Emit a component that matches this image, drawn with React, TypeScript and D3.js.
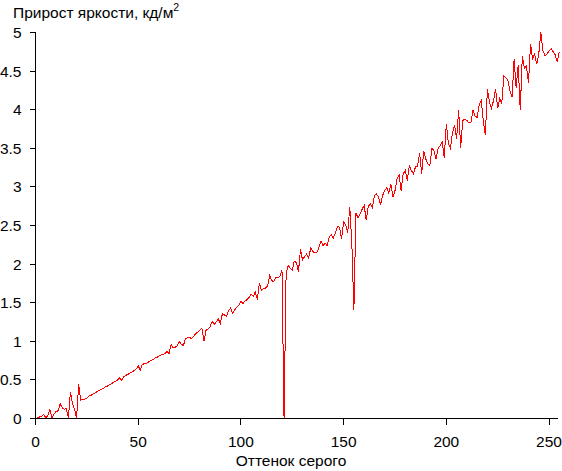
import React from "react";
import * as d3 from "d3";

const grayLevels: number[] = Array.from({ length: 256 }, (_, i) => i);

const brightnessGain: number[] = [
  0.0, 0.01, 0.02, 0.03, 0.05, 0.01, 0.04, 0.12, 0.01, 0.06,
  0.09, 0.1, 0.19, 0.14, 0.12, 0.13, 0.01, 0.34, 0.2, 0.12,
  0.0, 0.44, 0.24, 0.25, 0.25, 0.26, 0.29, 0.3, 0.32, 0.33,
  0.35, 0.36, 0.38, 0.39, 0.41, 0.42, 0.44, 0.45, 0.47, 0.48,
  0.5, 0.53, 0.49, 0.54, 0.56, 0.57, 0.59, 0.6, 0.62, 0.64,
  0.68, 0.63, 0.7, 0.71, 0.71, 0.73, 0.75, 0.76, 0.78, 0.79,
  0.81, 0.82, 0.83, 0.84, 0.87, 0.84, 0.96, 0.915, 0.92, 0.945,
  1.0, 0.96, 0.945, 1.03, 1.045, 1.045, 1.04, 1.06, 1.1, 1.12,
  1.14, 1.17, 1.0, 1.14, 1.16, 1.19, 1.26, 1.22, 1.25, 1.29,
  1.23, 1.36, 1.34, 1.32, 1.4, 1.43, 1.36, 1.41, 1.44, 1.47,
  1.52, 1.49, 1.52, 1.54, 1.57, 1.61, 1.58, 1.64, 1.54, 1.75,
  1.66, 1.68, 1.69, 1.72, 1.85, 1.79, 1.77, 1.83, 1.82, 1.84,
  1.92, 0.0, 1.87, 1.98, 1.95, 1.92, 2.04, 2.02, 1.9, 2.19,
  2.05, 2.1, 2.13, 2.08, 2.21, 2.16, 2.15, 2.15, 2.22, 2.3,
  2.24, 2.27, 2.24, 2.35, 2.38, 2.34, 2.4, 2.49, 2.48, 2.33,
  2.55, 2.51, 2.41, 2.74, 2.27, 1.4, 2.66, 2.6, 2.65, 2.71,
  2.76, 2.57, 2.75, 2.78, 2.73, 2.89, 2.91, 2.87, 2.77, 2.89,
  2.95, 2.99, 2.92, 3.03, 2.87, 2.95, 3.1, 3.16, 2.95, 3.17,
  3.21, 3.08, 3.28, 3.21, 3.17, 3.26, 3.27, 3.44, 3.17, 3.47,
  3.36, 3.3, 3.28, 3.5, 3.47, 3.36, 3.5, 3.53, 3.58, 3.38,
  3.82, 3.56, 3.5, 3.7, 3.8, 3.62, 4.0, 3.51, 3.86, 3.88,
  3.86, 3.83, 3.84, 3.99, 3.92, 3.9, 4.06, 4.12, 3.85, 3.67,
  4.27, 4.1, 4.02, 4.12, 4.27, 4.02, 4.15, 4.08, 4.44, 4.41,
  4.38, 4.24, 4.16, 4.65, 4.28, 4.58, 3.99, 4.7, 4.53, 4.57,
  4.34, 4.85, 4.66, 4.72, 4.59, 4.72, 5.0, 4.77, 4.7, 4.72,
  4.76, 4.79, 4.75, 4.71, 4.62, 4.75,
];

const xTicks: number[] = [0, 50, 100, 150, 200, 250];
const yTicks: number[] = [0, 0.5, 1, 1.5, 2, 2.5, 3, 3.5, 4, 4.5, 5];
const yTickLabels: string[] = ["0", "0.5", "1", "1.5", "2", "2.5", "3", "3.5", "4", "4.5", "5"];
const titleText = "Прирост яркости, кд/м";
const titleSup = "2";
const xAxisTitle = "Оттенок серого";

const W = 562;
const H = 471;
const FONT = "'Liberation Sans', Arial, sans-serif";
const FS = 15.5;

export default function App() {
  const x = d3.scaleLinear().domain([0, 255]).range([35.5, 559.3]);
  const y = d3.scaleLinear().domain([0, 5]).range([418.5, 32.5]);

  const line = d3
    .line<number>()
    .x((_, i) => x(grayLevels[i]))
    .y((d) => y(d));

  const path = line(brightnessGain) || "";

  return (
    <svg
      width={W}
      height={H}
      style={{ position: "absolute", left: 0, top: 0, display: "block", background: "#fff" }}
      fontFamily={FONT}
    >
      <rect x={0} y={0} width={W} height={H} fill="#fff" />
      <text x={13} y={17.5} fontSize={FS} fill="#000">
        {titleText}
        <tspan fontSize={10.5} dy={-7}>
          {titleSup}
        </tspan>
      </text>

      <path d={path} fill="none" stroke="#ff0000" strokeWidth={1} shapeRendering="crispEdges" />

      <line x1={35.5} x2={35.5} y1={y(5)} y2={y(0)} stroke="#000" shapeRendering="crispEdges" />
      {yTicks.map((t, i) => (
        <g key={"y" + t}>
          <line x1={30} x2={35.5} y1={y(t)} y2={y(t)} stroke="#000" shapeRendering="crispEdges" />
          <text x={21.5} y={y(t)} dy="0.36em" textAnchor="end" fontSize={FS} fill="#000">
            {yTickLabels[i]}
          </text>
        </g>
      ))}

      <line x1={30} x2={558} y1={y(0)} y2={y(0)} stroke="#000" shapeRendering="crispEdges" />
      {xTicks.map((t) => (
        <g key={"x" + t}>
          <line x1={x(t)} x2={x(t)} y1={y(0)} y2={424.5} stroke="#000" shapeRendering="crispEdges" />
          <text x={x(t)} y={447} textAnchor="middle" fontSize={FS} fill="#000">
            {t}
          </text>
        </g>
      ))}
      <text x={291} y={466} textAnchor="middle" fontSize={FS} fill="#000">
        {xAxisTitle}
      </text>
    </svg>
  );
}
